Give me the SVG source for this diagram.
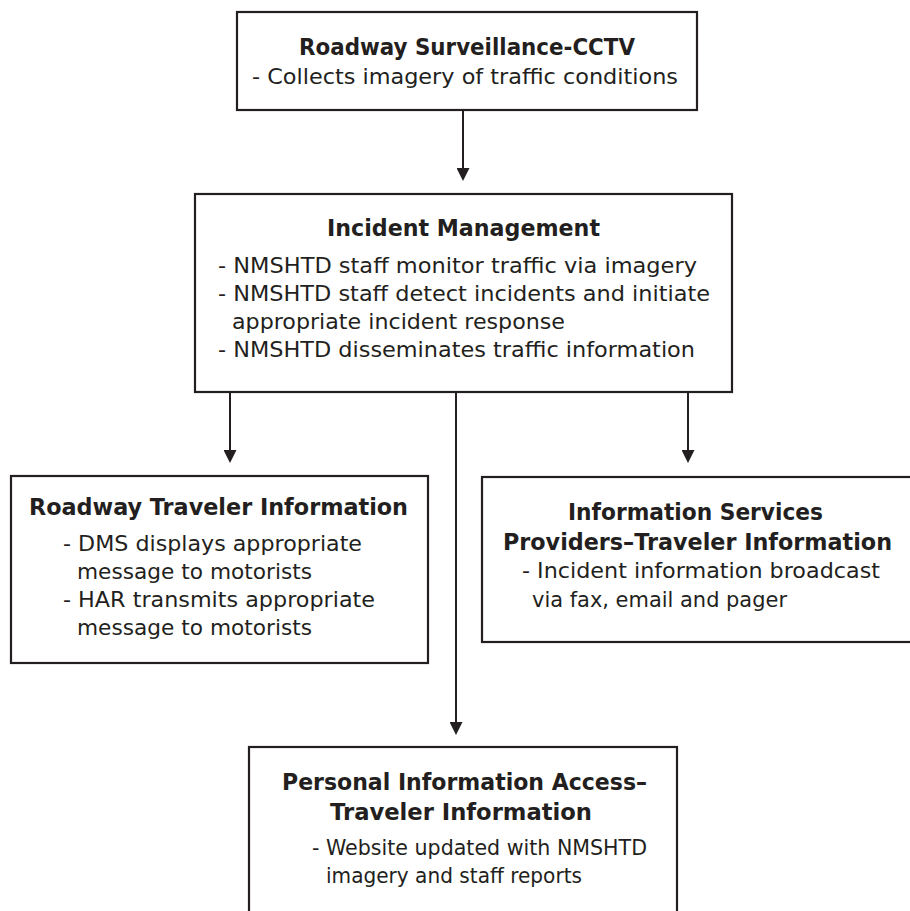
<svg xmlns="http://www.w3.org/2000/svg" width="910" height="911" viewBox="0 0 910 911">
<style>
.box{fill:#fff;stroke:#231f20;stroke-width:2.2}
.t{font-family:"DejaVu Sans","Open Sans",sans-serif;font-size:22.5px;font-weight:bold;fill:#231f20}
.b{font-family:"DejaVu Sans","Open Sans",sans-serif;font-size:22px;fill:#231f20}
.c{fill:none;stroke:#231f20;stroke-width:2}
</style>
<defs>
<marker id="ah" viewBox="0 0 13 13" markerWidth="13" markerHeight="13" refX="9" refY="6.5" orient="auto" markerUnits="userSpaceOnUse">
<path d="M0,0 L13,6.5 L0,13 z" fill="#231f20"/>
</marker>
</defs>
<rect width="910" height="911" fill="#fff"/>
<g id="connectors">
<path class="c" d="M463,110 V177" marker-end="url(#ah)"/>
<path class="c" d="M230,392 V459" marker-end="url(#ah)"/>
<path class="c" d="M456,392 V731" marker-end="url(#ah)"/>
<path class="c" d="M688,392 V459" marker-end="url(#ah)"/>
</g>
<g id="cctv">
<rect class="box" x="237" y="12" width="460" height="98"/>
<text class="t" x="299" y="55" textLength="336" lengthAdjust="spacingAndGlyphs">Roadway Surveillance-CCTV</text>
<text class="b" x="252" y="84" textLength="426" lengthAdjust="spacingAndGlyphs">- Collects imagery of traffic conditions</text>
</g>
<g id="incident">
<rect class="box" x="195" y="194" width="537" height="198"/>
<text class="t" x="327" y="236" textLength="273" lengthAdjust="spacingAndGlyphs">Incident Management</text>
<text class="b" x="218" y="273" textLength="479" lengthAdjust="spacingAndGlyphs">- NMSHTD staff monitor traffic via imagery</text>
<text class="b" x="218" y="301" textLength="492" lengthAdjust="spacingAndGlyphs">- NMSHTD staff detect incidents and initiate</text>
<text class="b" x="232" y="329" textLength="333" lengthAdjust="spacingAndGlyphs">appropriate incident response</text>
<text class="b" x="218" y="357" textLength="477" lengthAdjust="spacingAndGlyphs">- NMSHTD disseminates traffic information</text>
</g>
<g id="roadway">
<rect class="box" x="11" y="476" width="417" height="187"/>
<text class="t" x="29" y="515" textLength="379" lengthAdjust="spacingAndGlyphs">Roadway Traveler Information</text>
<text class="b" x="63" y="551" textLength="299" lengthAdjust="spacingAndGlyphs">- DMS displays appropriate</text>
<text class="b" x="77" y="579" textLength="235" lengthAdjust="spacingAndGlyphs">message to motorists</text>
<text class="b" x="63" y="607" textLength="312" lengthAdjust="spacingAndGlyphs">- HAR transmits appropriate</text>
<text class="b" x="77" y="635" textLength="235" lengthAdjust="spacingAndGlyphs">message to motorists</text>
</g>
<g id="isp">
<rect class="box" x="482" y="477" width="440" height="165"/>
<text class="t" x="568" y="520" textLength="255" lengthAdjust="spacingAndGlyphs">Information Services</text>
<text class="t" x="503" y="550" textLength="389" lengthAdjust="spacingAndGlyphs">Providers–Traveler Information</text>
<text class="b" x="522" y="578" textLength="358" lengthAdjust="spacingAndGlyphs">- Incident information broadcast</text>
<text class="b" x="532" y="607" textLength="255" lengthAdjust="spacingAndGlyphs">via fax, email and pager</text>
</g>
<g id="personal">
<rect class="box" x="249" y="747" width="428" height="180"/>
<text class="t" x="282" y="790" textLength="365" lengthAdjust="spacingAndGlyphs">Personal Information Access–</text>
<text class="t" x="330" y="820" textLength="262" lengthAdjust="spacingAndGlyphs">Traveler Information</text>
<text class="b" x="312" y="855" textLength="335" lengthAdjust="spacingAndGlyphs">- Website updated with NMSHTD</text>
<text class="b" x="326" y="883" textLength="256" lengthAdjust="spacingAndGlyphs">imagery and staff reports</text>
</g>
</svg>
